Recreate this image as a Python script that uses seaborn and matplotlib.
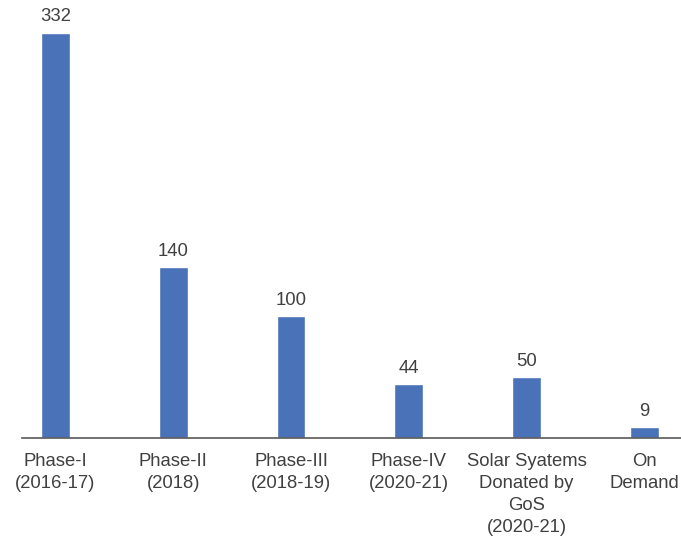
import numpy as np
import pandas as pd
import seaborn as sns
import matplotlib.pyplot as plt

categories = ["Phase-I\n(2016-17)", "Phase-II\n(2018)", "Phase-III\n(2018-19)",
              "Phase-IV\n(2020-21)", "Solar Syatems\nDonated by\nGoS\n(2020-21)", "On\nDemand"]
values = [332, 140, 100, 44, 50, 9]

df = pd.DataFrame({"phase": categories, "count": values})

sns.set_style("white")
plt.rcParams['font.family'] = ['Liberation Sans', 'DejaVu Sans']

fig = plt.figure(figsize=(6.81, 5.39), dpi=100)
ax = fig.add_axes([0.032, 0.187, 0.968, 0.793])

sns.barplot(data=df, x="phase", y="count", color="#4a72b8", saturation=1,
            width=0.245, ax=ax)

for i, v in enumerate(values):
    ax.text(i, v + 6, str(v), ha="center", va="bottom", fontsize=13.3, color="#404040")

ax.set_xlim(-0.285, 5.31)
ax.set_ylim(0, 350)
ax.set_xlabel("")
ax.set_ylabel("")
ax.set_yticks([])
ax.tick_params(axis="x", length=0, pad=11, labelsize=13.3, labelcolor="#404040")
for t in ax.get_xticklabels():
    t.set_linespacing(1.38)
for s in ["top", "right", "left"]:
    ax.spines[s].set_visible(False)
ax.spines["bottom"].set_color("#595959")
ax.spines["bottom"].set_linewidth(1.2)

fig.savefig("out.png", dpi=100)
